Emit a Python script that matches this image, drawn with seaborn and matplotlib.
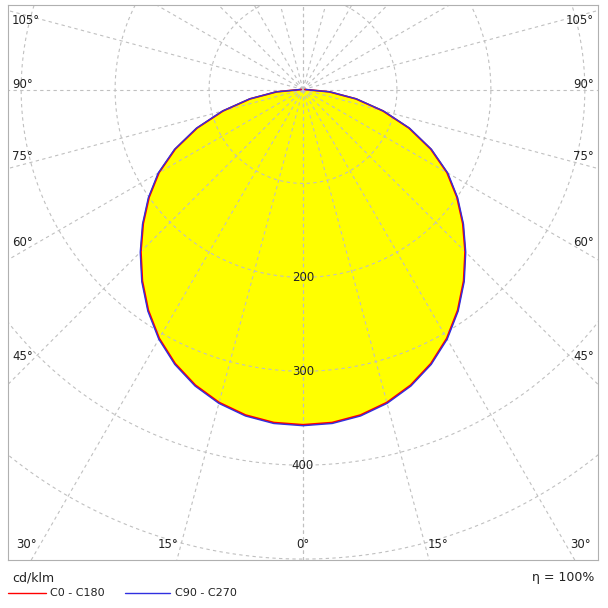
import numpy as np
import pandas as pd
import matplotlib
matplotlib.use("Agg")
import matplotlib.pyplot as plt
import seaborn as sns

gamma = [0, 5, 10, 15, 20, 25, 30, 35, 40, 45, 50, 55, 60, 65, 70, 75, 80, 85, 90]
c0_c180 = [357, 356, 352, 345, 335, 322, 306, 287, 266, 244, 222, 200, 177, 150, 120, 88, 57, 28, 2]
c90_c270 = [358, 357, 353, 346, 336, 323, 307, 288, 267, 245, 223, 201, 178, 151, 121, 89, 58, 29, 3]
ring_labels = [200, 300, 400]
angle_labels_side = [105, 90, 75, 60, 45]
angle_labels_bottom = [30, 15, 0, 15, 30]

sns.set_theme(style="white")
plt.rcParams['font.family'] = ['DejaVu Sans']

fig = plt.figure(figsize=(6.08, 6.08), dpi=100)
W = H = 608.0
ax = fig.add_axes([8/W, (608-560)/W, 590/W, 555/H])
XL = (-314, 314); YL = (-501, 90)
ax.set_xticks([]); ax.set_yticks([])
for s in ax.spines.values():
    s.set_color('#b0b0b0'); s.set_linewidth(0.8)

def curve(vals):
    gg = np.radians(np.array([-x for x in gamma[::-1]] + gamma[1:]))
    vv = np.array(vals[::-1] + vals[1:])
    return pd.DataFrame({'x': vv*np.sin(gg), 'y': -vv*np.cos(gg)})

d0 = curve(c0_c180); d90 = curve(c90_c270)
ax.fill(d0['x'], d0['y'], color='#ffff00', zorder=1)

# grid on top of fill
t = np.linspace(0, 2*np.pi, 400)
for r in range(100, 800, 100):
    ax.plot(r*np.cos(t), r*np.sin(t), color='#c0c0c0', lw=0.8, ls=(0, (3, 3)), zorder=2)
for a in range(0, 181, 15):
    g = np.radians(a)
    for sgn in (-1, 1):
        ax.plot([0, sgn*900*np.sin(g)], [0, -900*np.cos(g)], color='#c0c0c0', lw=0.8, ls=(0, (3, 3)), zorder=2)

sns.lineplot(data=d0, x='x', y='y', sort=False, color='red', lw=1.3, ax=ax, zorder=3)
sns.lineplot(data=d90, x='x', y='y', sort=False, color='#3030e0', lw=1.0, ax=ax, zorder=4)
ax.set_xlabel(''); ax.set_ylabel('')
ax.set_xlim(*XL); ax.set_ylim(*YL)
ax.set_aspect('equal', adjustable='datalim')
ax.set_xlim(*XL); ax.set_ylim(*YL)

for r in ring_labels:
    ax.text(0, -r, str(r), ha='center', va='center', fontsize=8.5, color='#222', zorder=5)

side_y = [20, 85, 157, 243, 357]
for lab, y in zip(angle_labels_side, side_y):
    fig.text(12/W, 1 - y/H, f"{lab}°", fontsize=8.5, va='center', ha='left', color='#222')
    fig.text(594/W, 1 - y/H, f"{lab}°", fontsize=8.5, va='center', ha='right', color='#222')
bottom_x = [26, 168, 303, 438, 580]
for lab, x in zip(angle_labels_bottom, bottom_x):
    fig.text(x/W, 1 - 545/H, f"{lab}°", fontsize=8.5, va='center', ha='center', color='#222')

fig.text(12/W, 1 - 578/H, "cd/klm", fontsize=9, va='center', color='#222')
fig.text(594/W, 1 - 578/H, "η = 100%", fontsize=9, va='center', ha='right', color='#222')
fig.add_artist(plt.Line2D([8/W, 46/W], [1 - 593/H]*2, color='red', lw=1))
fig.text(50/W, 1 - 593/H, "C0 - C180", fontsize=8, va='center', color='#222')
fig.add_artist(plt.Line2D([125/W, 170/W], [1 - 593/H]*2, color='#3030e0', lw=1))
fig.text(175/W, 1 - 593/H, "C90 - C270", fontsize=8, va='center', color='#222')

fig.savefig('out.png', dpi=100)
